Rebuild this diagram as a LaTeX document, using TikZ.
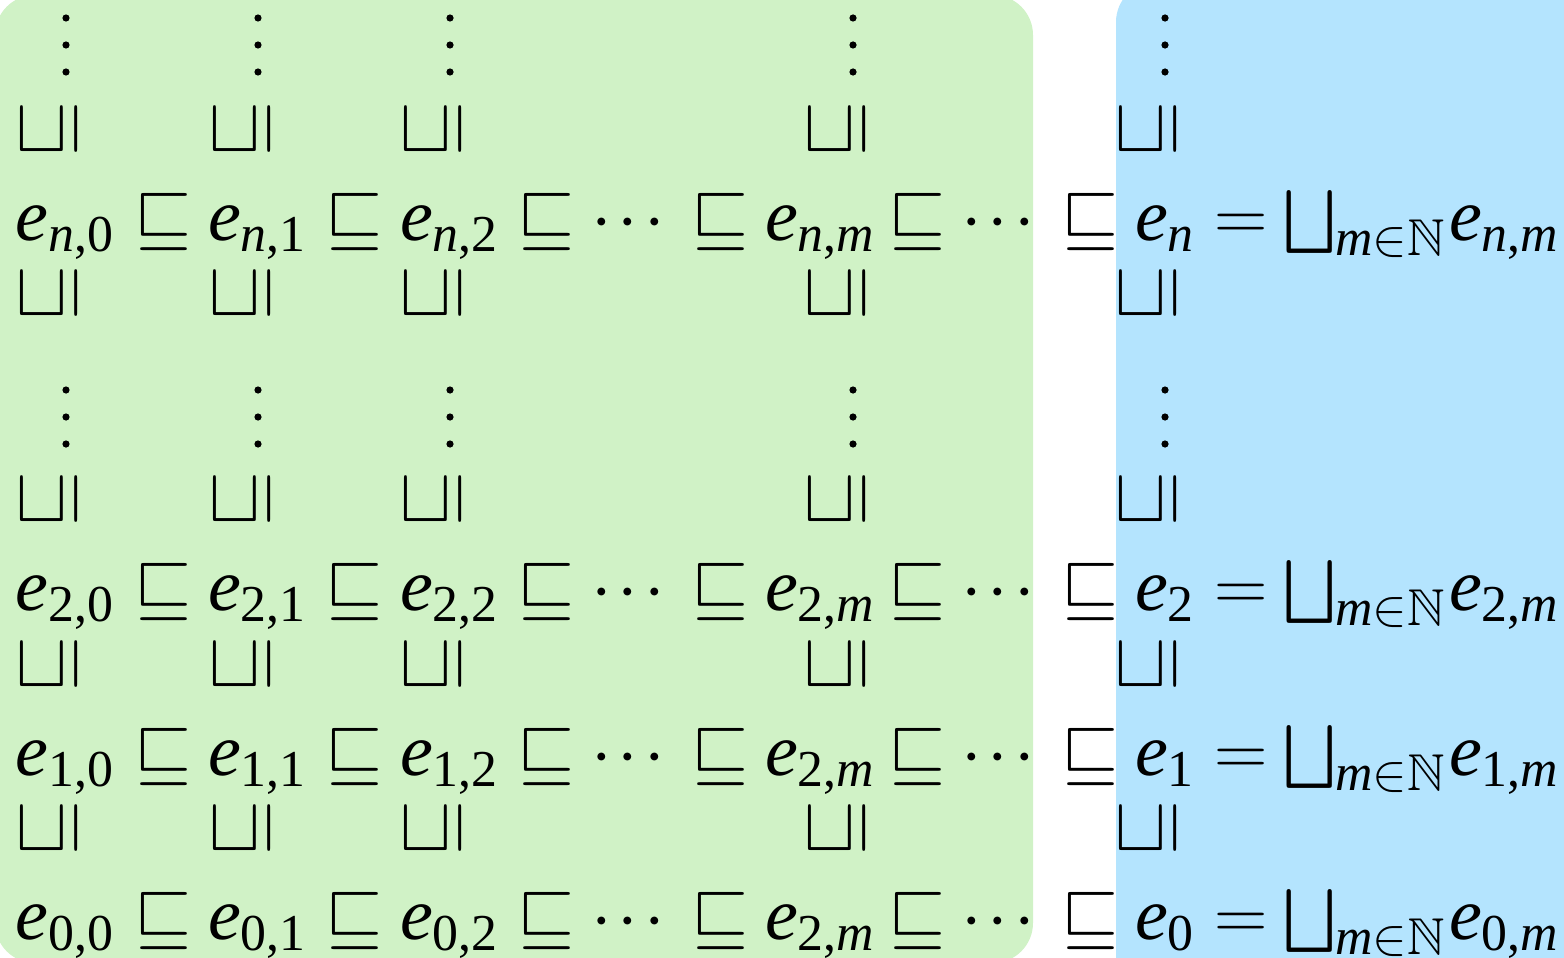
\RequirePackage{fix-cm}
\documentclass[tikz,border=0pt]{standalone}
\usepackage{amsmath,amssymb}
\usepackage{fontspec}
\setmainfont{Liberation Serif}
\definecolor{bggreen}{RGB}{208,242,198}
\definecolor{bgblue}{RGB}{180,228,254}
\newcommand\vi[1]{\text{\itshape #1}}
\newcommand\eij[2]{$\vi{e}_{\text{#1,#2}}$}
\newcommand\ei[1]{$\vi{e}_{\text{#1}}$}
\newcommand\mycdots{$\mathord{\cdotp}\kern6pt\mathord{\cdotp}\kern6pt\mathord{\cdotp}$}
\newcommand\mysqcup{$\mathop{\vcenter{\hbox{\scalebox{0.85}{$\bigsqcup$}}}}\nolimits_{\vi{m}\in\mathbb{N}}$}
\tikzset{
  txt/.style={font=\fontsize{74}{80}\selectfont, inner sep=0pt, outer sep=0pt},
  elem/.style={txt, anchor=base west},
  rel/.style={txt, anchor=base},
  vrel/.style={txt, rotate=90, anchor=center},
  vdot/.style={fill=black},
}
\begin{document}
\begin{tikzpicture}[x=1pt,y=-1pt]
\useasboundingbox (0,0) rectangle (1564,958);
\clip (0,0) rectangle (1564,958);
\fill[bggreen, rounded corners=40pt] (-5,-5) rectangle (1033,963);
\fill[bgblue, rounded corners=40pt] (1116,-18) rectangle (1620,1000);
% rows
\foreach \rl/\y/\nm/\ml in {\textit{n}/240/n/\textit{n}, 2/610/2/2, 1/775/1/2, 0/939/0/2} {
  \node[elem] (e\nm0) at (16,\y) {\eij{\rl}{0}};
  \node[rel] (s\nm a) at (163,\y) {$\sqsubseteq$};
  \node[elem] (e\nm1) at (208,\y) {\eij{\rl}{1}};
  \node[rel] (s\nm b) at (354,\y) {$\sqsubseteq$};
  \node[elem] (e\nm2) at (400,\y) {\eij{\rl}{2}};
  \node[rel] (s\nm c) at (546,\y) {$\sqsubseteq$};
  \node[rel] (d\nm a) at (628,\y) {\mycdots};
  \node[rel] (s\nm d) at (720,\y) {$\sqsubseteq$};
  \node[elem] (e\nm m) at (765,\y) {\eij{\ml}{\textit{m}}};
  \node[rel] (s\nm e) at (917,\y) {$\sqsubseteq$};
  \node[rel] (d\nm b) at (998,\y) {\mycdots};
  \node[rel] (s\nm f) at (1090,\y) {$\sqsubseteq$};
  \node[elem] (l\nm) at (1135,\y) {\ei{\rl}};
  \node[rel] (q\nm) at (1241,\y) {$=$};
  \node[elem] (j\nm) at (1283,\y) {\mysqcup};
  \node[elem] (r\nm) at (1449,\y) {\eij{\rl}{\textit{m}}};
}
% vertical order symbols
\foreach \x/\c in {48.5/0, 241.5/1, 433/2, 836.5/m, 1147.5/i} {
  \foreach \y/\k in {130/a, 294/b, 500/c, 665/d, 829/e} {
    \node[vrel] (v\c\k) at (\x,\y) {$\sqsubseteq$};
  }
}
% vertical dots
\foreach \x in {66, 258, 450, 853, 1165} {
  \foreach \y in {45, 417} {
    \fill[vdot] (\x,\y-27) circle (3.6);
    \fill[vdot] (\x,\y) circle (3.6);
    \fill[vdot] (\x,\y+27) circle (3.6);
  }
}
\end{tikzpicture}
\end{document}
